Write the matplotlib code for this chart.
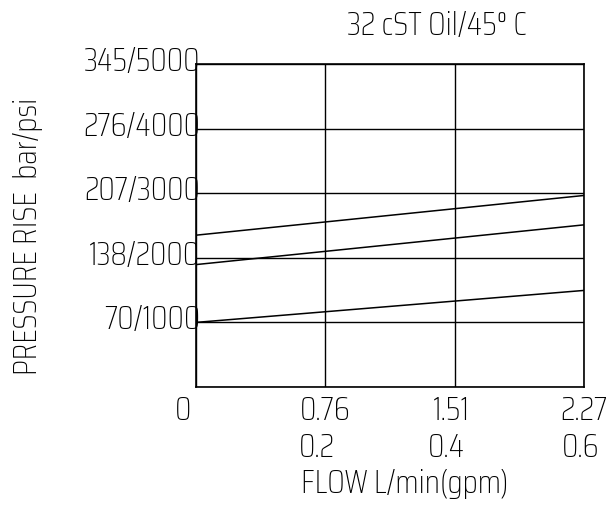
import matplotlib
matplotlib.use("Agg")
import matplotlib.pyplot as plt
from matplotlib.transforms import blended_transform_factory

plt.rcParams['font.family'] = ['Saira Condensed', 'DejaVu Sans']
plt.rcParams['font.weight'] = 'light'

# Data
flow_gpm = [0.0, 0.6]
line_a_psi = [2350, 2965]
line_b_psi = [1895, 2510]
line_c_psi = [1000, 1495]

y_ticks_psi = [0, 1000, 2000, 3000, 4000, 5000]
y_tick_labels = ["", "70/1000", "138/2000", "207/3000", "276/4000", "345/5000"]
x_ticks_gpm = [0.0, 0.2, 0.4, 0.6]
x_labels_lpm = ["0", "0.76", "1.51", "2.27"]
x_labels_gpm = ["", "0.2", "0.4", "0.6"]

W, H = 612, 509
fig = plt.figure(figsize=(W / 100, H / 100), dpi=100)
ax = fig.add_axes([196 / W, 1 - 387 / H, (584 - 196) / W, (387 - 64) / H])
ax.set_xlim(0, 0.6)
ax.set_ylim(0, 5000)

for y in y_ticks_psi:
    ax.axhline(y, color='black', lw=1.0, zorder=1)
for x in x_ticks_gpm:
    ax.axvline(x, color='black', lw=1.0, zorder=1)

for s in [line_a_psi, line_b_psi, line_c_psi]:
    ax.plot(flow_gpm, s, color='black', lw=1.1, zorder=2)

for sp in ax.spines.values():
    sp.set_linewidth(1.2)
ax.set_xticks([])
ax.set_yticks([])

fs = 24
# y tick labels
ytr = blended_transform_factory(fig.transFigure, ax.transData)
for y, lab in zip(y_ticks_psi, y_tick_labels):
    if lab:
        ax.text(200 / W, y + 30, lab, transform=ytr, ha='right', va='center', fontsize=fs)

# x tick labels
xtr = blended_transform_factory(ax.transData, fig.transFigure)
offs1 = [-0.02, 0.0, -0.005, 0.0]
for x, lab, o in zip(x_ticks_gpm, x_labels_lpm, offs1):
    ax.text(x + o, 1 - 411 / H, lab, transform=xtr, ha='center', va='center', fontsize=fs)
offs2 = [0.0, -0.013, -0.012, -0.005]
for x, lab, o in zip(x_ticks_gpm, x_labels_gpm, offs2):
    if lab:
        ax.text(x + o, 1 - 448 / H, lab, transform=xtr, ha='center', va='center', fontsize=fs)

fig.text(405 / W, 1 - 484 / H, "FLOW L/min(gpm)", ha='center', va='center', fontsize=fs)
fig.text(437 / W, 1 - 26 / H, "32 cST Oil/45° C", ha='center', va='center', fontsize=fs)
fig.text(28 / W, 1 - 236 / H, "PRESSURE RISE  bar/psi", ha='center', va='center',
         rotation=90, fontsize=fs)

fig.savefig("out.png", dpi=100)
